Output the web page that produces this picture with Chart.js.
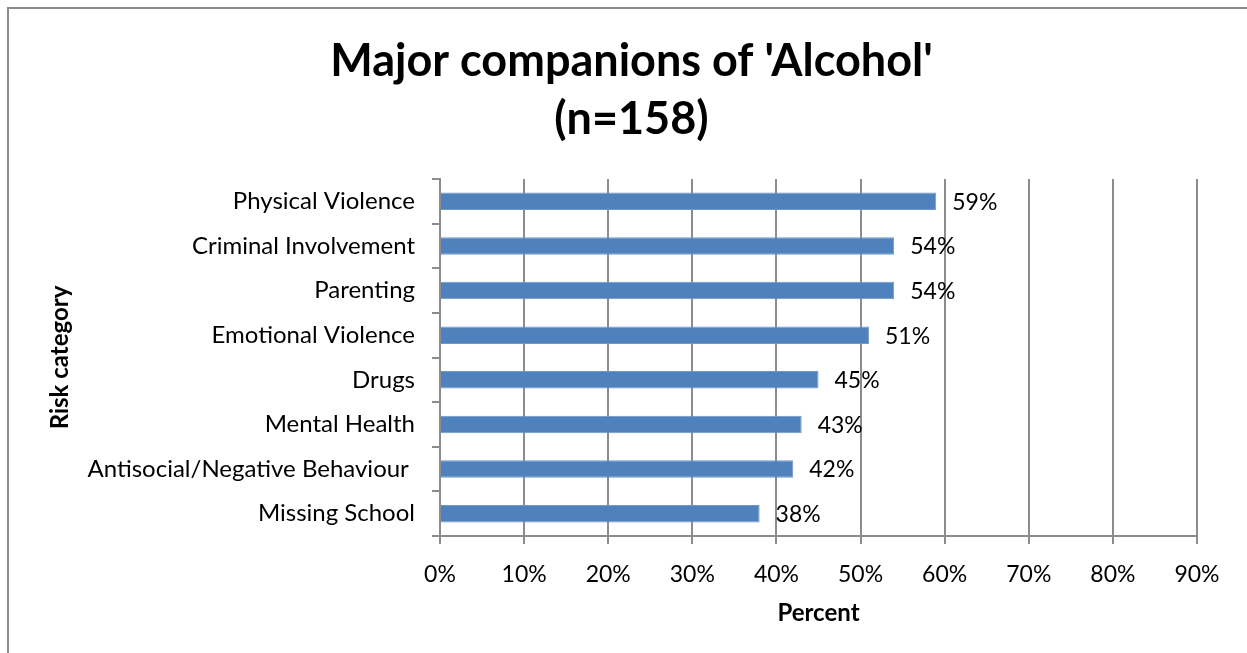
<!DOCTYPE html>
<html>
<head>
<meta charset="utf-8">
<script src="https://cdn.jsdelivr.net/npm/chart.js@4"></script>
<style>
  body { margin: 0; background: #fff; }
  canvas { display: block; }
</style>
</head>
<body>
<canvas id="alcohol-chart" width="1247" height="653"></canvas>
<script>
const alcoholCanvas = document.getElementById('alcohol-chart');

// risk categories, top to bottom
const categories = ["Physical Violence", "Criminal Involvement", "Parenting", "Emotional Violence",
  "Drugs", "Mental Health", "Antisocial/Negative Behaviour ", "Missing School"];
const percents = [59, 54, 54, 51, 45, 43, 42, 38];
const xMax = 90;
const xStep = 10;

const fontFamily = "Lato, 'Open Sans', sans-serif";
const gridGray = '#8c8c8c';

// outer frame of the chart box
const frame = {
  id: 'frame',
  beforeDraw(chart) {
    const ctx = chart.ctx;
    ctx.save();
    ctx.fillStyle = '#fff';
    ctx.fillRect(0, 0, chart.width, chart.height);
    ctx.strokeStyle = gridGray;
    ctx.lineWidth = 2;
    ctx.beginPath();
    ctx.moveTo(8, chart.height + 5);
    ctx.lineTo(8, 8);
    ctx.lineTo(chart.width + 5, 8);
    ctx.stroke();
    ctx.restore();
  }
};

// percent labels to the right of each bar
const barLabels = {
  id: 'barLabels',
  afterDatasetsDraw(chart) {
    const ctx = chart.ctx;
    const meta = chart.getDatasetMeta(0);
    ctx.save();
    ctx.font = '23px ' + fontFamily;
    ctx.fillStyle = '#000';
    ctx.textAlign = 'left';
    ctx.textBaseline = 'middle';
    meta.data.forEach((bar, i) => {
      ctx.fillText(percents[i] + '%', bar.x + 16, bar.y + 1);
    });
    ctx.restore();
  }
};

let alcoholChart = new Chart(alcoholCanvas, {
  type: 'bar',
  data: {
    labels: categories,
    datasets: [{
      data: percents,
      backgroundColor: '#4f81bd',
      borderColor: '#6f97c9',
      borderWidth: 1,
      borderSkipped: 'start',
      categoryPercentage: 1,
      barPercentage: 0.39
    }]
  },
  options: {
    indexAxis: 'y',
    responsive: false,
    animation: false,
    layout: {
      padding: { top: 8, left: 16, right: 0, bottom: 0 }
    },
    scales: {
      x: {
        min: 0,
        max: xMax,
        ticks: {
          stepSize: xStep,
          color: '#000',
          font: { family: fontFamily, size: 23 },
          padding: 17,
          callback: v => v + '%'
        },
        grid: {
          color: gridGray,
          lineWidth: 2,
          tickLength: 8
        },
        border: { color: gridGray, width: 2 },
        title: {
          display: true,
          text: 'Percent',
          color: '#000',
          font: { family: fontFamily, size: 24, weight: 'bold' },
          padding: { top: 0, bottom: 25 }
        },
        afterFit(scale) {
          scale.height = 117;
          // keep room on the right so the plot stops short of the frame
          scale.paddingRight = 50;
        }
      },
      y: {
        ticks: {
          color: '#000',
          font: { family: fontFamily, size: 24 },
          padding: 17
        },
        grid: {
          offset: true,
          drawOnChartArea: false,
          color: gridGray,
          lineWidth: 2,
          tickLength: 8
        },
        border: { color: gridGray, width: 2 },
        title: {
          display: true,
          text: 'Risk category',
          color: '#000',
          font: { family: fontFamily, size: 24, weight: 'bold' },
          padding: { top: 30, bottom: 0 }
        },
        afterFit(scale) { scale.width = 424; }
      }
    },
    plugins: {
      legend: { display: false },
      tooltip: { enabled: false },
      title: {
        display: true,
        text: ["Major companions of 'Alcohol'", "(n=158)"],
        color: '#000',
        font: { family: fontFamily, size: 45, weight: 'bold', lineHeight: 1.3 },
        padding: { top: 24, bottom: 30 }
      }
    }
  },
  plugins: [frame, barLabels]
});
</script>
</body>
</html>
